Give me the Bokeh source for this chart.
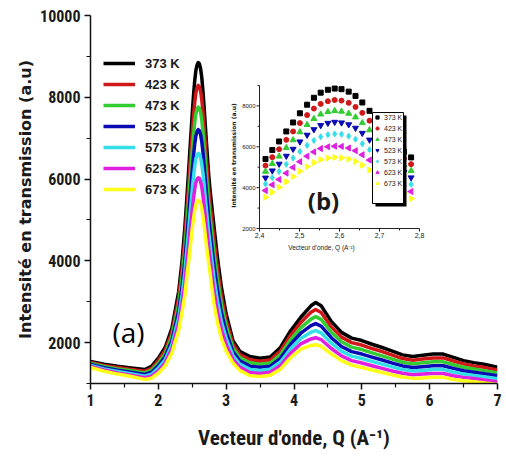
import math
from bokeh.plotting import figure
from bokeh.models import Range1d, Legend, LegendItem, FixedTicker, Label
from bokeh.core.properties import value
from bokeh.embed import file_html
from bokeh.resources import INLINE

# ---------------- data ----------------
Q = [1.0, 1.2, 1.4, 1.6, 1.8, 1.9, 2.0, 2.1, 2.2, 2.3, 2.35, 2.39,
     2.415, 2.432, 2.449, 2.467, 2.484, 2.501, 2.519, 2.536, 2.553, 2.571, 2.588,
     2.605, 2.623, 2.640, 2.657, 2.675, 2.692, 2.709, 2.727, 2.744, 2.761, 2.779,
     2.82, 2.87, 2.93, 3.0, 3.1, 3.2, 3.35, 3.5, 3.65, 3.8, 3.95, 4.1, 4.25, 4.32,
     4.4, 4.55, 4.7, 4.85, 5.0, 5.15, 5.3, 5.45, 5.6, 5.75, 5.9, 6.05, 6.2, 6.35,
     6.5, 6.65, 6.8, 7.0]

I_373 = [1540, 1470, 1420, 1380, 1340, 1420, 1620, 1880, 2350, 3250, 4000, 4800,
         5400, 5840, 6260, 6750, 7190, 7640, 8060, 8400, 8650, 8790, 8850,
         8820, 8700, 8490, 8170, 7760, 7330, 6900, 6470, 6080, 5760, 5480,
         4850, 4100, 3350, 2700, 2050, 1790, 1660, 1620, 1650, 1880, 2290, 2620, 2900, 2980,
         2900, 2520, 2250, 2110, 2050, 1960, 1880, 1790, 1700, 1660, 1690, 1720, 1720, 1640,
         1560, 1510, 1470, 1400]
I_423 = [1515, 1440, 1390, 1345, 1300, 1370, 1560, 1805, 2250, 3090, 3790, 4525,
         5080, 5490, 5880, 6340, 6750, 7160, 7550, 7870, 8100, 8230, 8290,
         8260, 8150, 7950, 7660, 7280, 6880, 6480, 6080, 5710, 5420, 5150,
         4535, 3835, 3140, 2550, 1960, 1710, 1580, 1545, 1575, 1790, 2180, 2490, 2740, 2810,
         2735, 2385, 2135, 2000, 1940, 1855, 1780, 1695, 1610, 1570, 1600, 1625, 1625, 1550,
         1480, 1430, 1395, 1330]
I_473 = [1490, 1415, 1355, 1310, 1260, 1325, 1495, 1730, 2150, 2935, 3585, 4250,
         4790, 5170, 5530, 5950, 6330, 6720, 7080, 7370, 7590, 7710, 7760,
         7730, 7630, 7450, 7170, 6820, 6450, 6080, 5710, 5380, 5100, 4830,
         4215, 3565, 2935, 2400, 1865, 1635, 1505, 1470, 1500, 1705, 2070, 2360, 2575, 2635,
         2570, 2255, 2020, 1890, 1830, 1750, 1675, 1595, 1520, 1480, 1505, 1530, 1530, 1460,
         1395, 1355, 1315, 1260]
I_523 = [1465, 1385, 1325, 1275, 1220, 1275, 1435, 1655, 2050, 2775, 3375, 3975,
         4480, 4830, 5160, 5550, 5890, 6250, 6580, 6850, 7050, 7160, 7210,
         7180, 7090, 6920, 6670, 6340, 6000, 5670, 5330, 5020, 4760, 4490,
         3900, 3300, 2725, 2250, 1775, 1555, 1425, 1395, 1425, 1615, 1960, 2230, 2415, 2465,
         2405, 2120, 1905, 1780, 1720, 1645, 1575, 1500, 1430, 1390, 1410, 1435, 1435, 1370,
         1310, 1275, 1240, 1190]
I_573 = [1440, 1355, 1295, 1240, 1180, 1225, 1375, 1580, 1950, 2615, 3165, 3700,
         4180, 4490, 4790, 5140, 5450, 5770, 6070, 6310, 6490, 6590, 6630,
         6610, 6520, 6370, 6150, 5860, 5550, 5250, 4940, 4660, 4440, 4160,
         3585, 3035, 2515, 2100, 1685, 1475, 1345, 1320, 1350, 1525, 1850, 2100, 2255, 2295,
         2240, 1985, 1790, 1670, 1610, 1540, 1475, 1405, 1340, 1305, 1320, 1340, 1340, 1280,
         1230, 1195, 1165, 1115]
I_623 = [1415, 1330, 1260, 1205, 1140, 1180, 1310, 1505, 1850, 2460, 2960, 3425,
         3860, 4140, 4400, 4710, 4990, 5270, 5540, 5750, 5910, 6000, 6030,
         6020, 5940, 5810, 5610, 5350, 5080, 4810, 4530, 4290, 4090, 3810,
         3265, 2765, 2310, 1950, 1590, 1400, 1270, 1245, 1275, 1440, 1740, 1970, 2090, 2120,
         2075, 1855, 1675, 1560, 1500, 1435, 1370, 1305, 1250, 1215, 1230, 1245, 1245, 1190,
         1150, 1120, 1085, 1045]
I_673 = [1390, 1300, 1230, 1170, 1100, 1130, 1250, 1430, 1750, 2300, 2750, 3150,
         3530, 3780, 4020, 4290, 4540, 4800, 5030, 5230, 5370, 5450, 5480,
         5460, 5400, 5280, 5100, 4860, 4620, 4380, 4140, 3910, 3730, 3460,
         2950, 2500, 2100, 1800, 1500, 1320, 1190, 1170, 1200, 1350, 1630, 1840, 1930, 1950,
         1910, 1720, 1560, 1450, 1390, 1330, 1270, 1210, 1160, 1125, 1135, 1150, 1150, 1100,
         1065, 1040, 1010, 975]

SERIES = [I_373, I_423, I_473, I_523, I_573, I_623, I_673]
TEMPS = ["373 K", "423 K", "473 K", "523 K", "573 K", "623 K", "673 K"]
COLORS = ["#000000", "#d01818", "#33cc33", "#0a0ab4", "#33e0e8", "#e020e0", "#ffff1a"]
MARKERS = ["square", "circle", "triangle", "inverted_triangle", "diamond", "triangle", "triangle"]
MARKER_ANGLES = [0, 0, 0, 0, 0, math.pi / 2, -math.pi / 2]

X_TICKS = [1, 2, 3, 4, 5, 6, 7]
X_MINOR = [1.5, 2.5, 3.5, 4.5, 5.5, 6.5]
Y_TICKS = [2000, 4000, 6000, 8000, 10000]
Y_MINOR = [1000, 3000, 5000, 7000, 9000]

INSET_Q = (2.4, 2.8)
INSET_I = (2000, 9000)
INSET_X_TICKS = [2.4, 2.5, 2.6, 2.7, 2.8]
INSET_X_LABELS = ["2,4", "2,5", "2,6", "2,7", "2,8"]
INSET_X_MINOR = [2.45, 2.55, 2.65, 2.75]
INSET_Y_TICKS = [2000, 4000, 6000, 8000]
INSET_Y_LABELS = ["2000", "4000", "6000", "8000"]
INSET_Y_MINOR = [3000, 5000, 7000, 9000]

# ---------------- layout (pixels) ----------------
FW, FH = 407, 368
BL, BR, BT, BB = 90, 8, 15, 73
# inset box in frame pixels (from frame left / frame top)
IN_L, IN_R, IN_T, IN_B = 169, 329, 70, 213

ix_scale = (INSET_Q[1] - INSET_Q[0]) / (IN_R - IN_L)     # units per px
iy_scale = (INSET_I[1] - INSET_I[0]) / (IN_B - IN_T)
ix0 = INSET_Q[0] - IN_L * ix_scale
ix1 = ix0 + FW * ix_scale
iy0 = INSET_I[0] - (FH - IN_B) * iy_scale
iy1 = iy0 + FH * iy_scale


def ipx(px, py):
    """frame pixel (from left, from top) -> inset data coords"""
    return ix0 + px * ix_scale, iy0 + (FH - py) * iy_scale


p = figure(frame_width=FW, frame_height=FH,
           min_border_left=BL, min_border_right=BR, min_border_top=BT, min_border_bottom=BB,
           x_range=Range1d(1, 7), y_range=Range1d(1000, 10000),
           output_backend="svg", toolbar_location=None)
p.extra_x_ranges = {"ix": Range1d(ix0, ix1)}
p.extra_y_ranges = {"iy": Range1d(iy0, iy1)}
p.outline_line_color = None
p.grid.visible = False
p.background_fill_color = "white"
p.border_fill_color = "white"

TXT = "#1a1a1a"
COND = "'Roboto Condensed', 'Liberation Sans Narrow', 'DejaVu Sans Condensed', 'Liberation Sans'"

p.xaxis.ticker = FixedTicker(ticks=X_TICKS, minor_ticks=X_MINOR)
p.yaxis.ticker = FixedTicker(ticks=Y_TICKS, minor_ticks=Y_MINOR)
for ax in (p.xaxis[0], p.yaxis[0]):
    ax.axis_line_width = 1.5
    ax.axis_line_color = "#111111"
    ax.major_tick_in = 0
    ax.major_tick_out = 6
    ax.minor_tick_in = 0
    ax.minor_tick_out = 4
    ax.major_tick_line_width = 1.5
    ax.minor_tick_line_width = 1.2
    ax.major_tick_line_color = "#111111"
    ax.minor_tick_line_color = "#111111"
    ax.major_label_text_font = COND
    ax.major_label_text_font_style = "bold"
    ax.major_label_text_font_size = "16px"
    ax.major_label_text_color = TXT
    ax.major_label_standoff = 4
    ax.axis_label_text_color = TXT
    ax.axis_label_text_font_style = "bold"

p.yaxis.axis_label = "Intensité en transmission (a.u)"
p.yaxis.axis_label_text_font = "DejaVu Sans"
p.yaxis.axis_label_text_font_size = "16px"
p.yaxis.axis_label_standoff = 2

p.xaxis.axis_label = "Vecteur d'onde, Q (A\u207b\u00b9)"
p.xaxis.axis_label_text_font = COND
p.xaxis.axis_label_text_font_size = "21px"
p.xaxis.axis_label_standoff = 17

# ---------------- main curves ----------------
main_items = []
for ys, col, lab in zip(SERIES, COLORS, TEMPS):
    r = p.line(Q, ys, line_color=col, line_width=3.5, line_join="round")
    main_items.append(LegendItem(label=lab, renderers=[r]))

leg = Legend(items=main_items, location=(13, 184), orientation="vertical",
             glyph_width=32, glyph_height=20, label_height=20, spacing=1,
             padding=0, margin=0, label_standoff=10,
             background_fill_alpha=0, border_line_alpha=0,
             label_text_font="Liberation Sans", label_text_font_style="bold",
             label_text_font_size="13px", label_text_color=TXT)
p.add_layout(leg, "center")

p.add_layout(Label(x=1.56, y=2270, text="(a)", text_align="center", text_baseline="middle",
                   text_font="Open Sans", text_font_size="28px", text_color="#000000"))

# ---------------- inset ----------------
kw = dict(x_range_name="ix", y_range_name="iy")
iq = [q for q in Q if INSET_Q[0] <= q <= INSET_Q[1]]
inset_items = []
for ys, col, mk, ang, lab in zip(SERIES, COLORS, MARKERS, MARKER_ANGLES, TEMPS):
    iv = [v for q, v in zip(Q, ys) if INSET_Q[0] <= q <= INSET_Q[1]]
    sz = 5 if mk in ("square", "circle") else 6
    r = p.scatter(iq, iv, marker=mk, angle=ang, size=sz, fill_color=col, line_color=col, **kw)
    inset_items.append(LegendItem(label=lab, renderers=[r]))

# legend frame with shadow
sx0, sy0 = ipx(285, 100)
sx1, sy1 = ipx(316, 191)
p.quad(left=[sx0], right=[sx1], top=[sy0], bottom=[sy1], fill_color="black", line_color=None, **kw)
bx0, by0 = ipx(282, 97)
bx1, by1 = ipx(313, 188)
p.quad(left=[bx0], right=[bx1], top=[by0], bottom=[by1], fill_color="white",
       line_color="black", line_width=1, **kw)

ileg = Legend(items=inset_items, location=(283, 195), orientation="vertical",
              glyph_width=8, glyph_height=10, label_height=10, spacing=1,
              padding=0, margin=0, label_standoff=3,
              background_fill_alpha=0, border_line_alpha=0,
              label_text_font="Liberation Sans", label_text_font_size="7px",
              label_text_color=TXT)
p.add_layout(ileg, "center")

# inset axes
p.segment(x0=[INSET_Q[0], INSET_Q[0]], y0=[INSET_I[0], INSET_I[0]],
          x1=[INSET_Q[0], INSET_Q[1]], y1=[INSET_I[1], INSET_I[0]],
          line_color="#222222", line_width=1, **kw)
p.ray(x=INSET_X_TICKS, y=[INSET_I[0]] * len(INSET_X_TICKS), length=3, length_units="screen",
      angle=-math.pi / 2, line_color="#222222", line_width=1, **kw)
p.ray(x=INSET_X_MINOR, y=[INSET_I[0]] * len(INSET_X_MINOR), length=2, length_units="screen",
      angle=-math.pi / 2, line_color="#222222", line_width=1, **kw)
p.ray(x=[INSET_Q[0]] * len(INSET_Y_TICKS), y=INSET_Y_TICKS, length=3, length_units="screen",
      angle=math.pi, line_color="#222222", line_width=1, **kw)
p.ray(x=[INSET_Q[0]] * len(INSET_Y_MINOR), y=INSET_Y_MINOR, length=2, length_units="screen",
      angle=math.pi, line_color="#222222", line_width=1, **kw)
p.text(x=INSET_X_TICKS, y=[INSET_I[0]] * len(INSET_X_TICKS), text=INSET_X_LABELS,
       y_offset=4, text_align="center", text_baseline="top",
       text_font=value("Liberation Sans"), text_font_size="7px", text_color=TXT, **kw)
p.text(x=[INSET_Q[0]] * len(INSET_Y_TICKS), y=INSET_Y_TICKS, text=INSET_Y_LABELS,
       x_offset=-4, text_align="right", text_baseline="middle",
       text_font=value("Liberation Sans"), text_font_size="6px", text_color=TXT, **kw)

lx, ly = ipx(143, 140)
p.text(x=[lx], y=[ly], text=["Intensité en transmission (a.u)"], angle=math.pi / 2,
       text_align="center", text_baseline="middle", text_font=value("DejaVu Sans"),
       text_font_style="bold", text_font_size="6px", text_color=TXT, **kw)
xx, xy = ipx(231, 232)
p.text(x=[xx], y=[xy], text=["Vecteur d'onde, Q (A\u207b\u00b9)"],
       text_align="center", text_baseline="middle", text_font=value("Liberation Sans"),
       text_font_size="6.5px", text_color=TXT, **kw)
bx, by = ipx(233, 185)
p.text(x=[bx], y=[by], text=["(b)"], text_align="center", text_baseline="middle",
       text_font=value("Open Sans"), text_font_style="bold", text_font_size="24px",
       text_color=TXT, **kw)

open("out.html", "w").write(file_html(p, INLINE))
